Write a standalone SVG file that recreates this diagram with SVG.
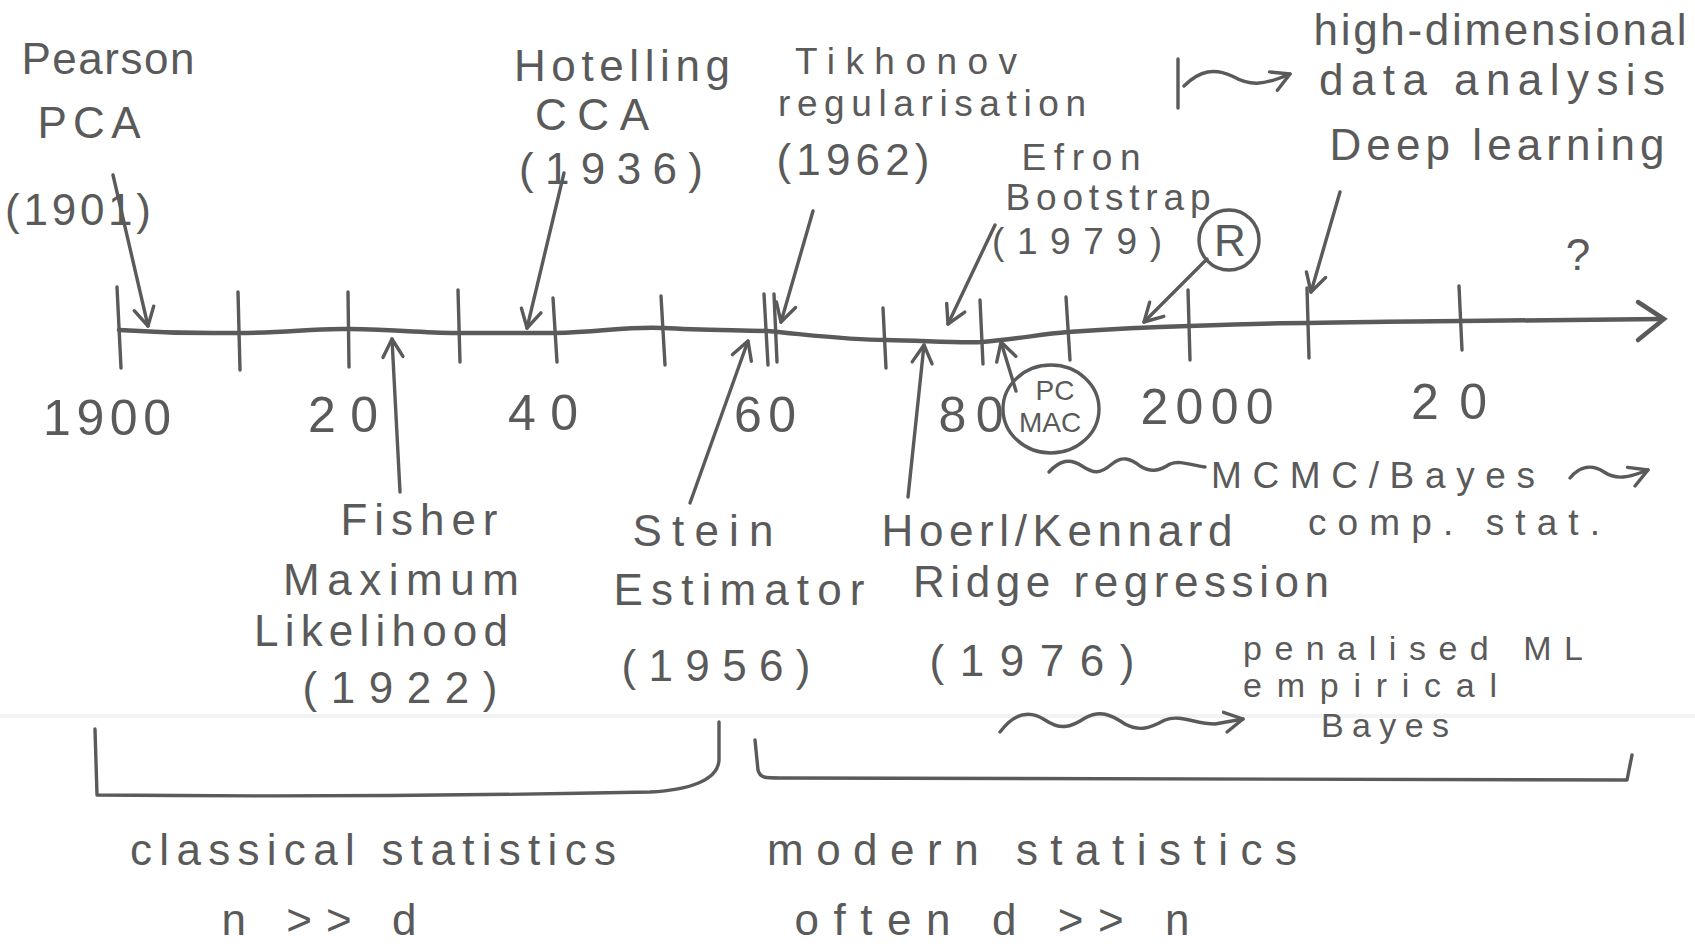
<svg xmlns="http://www.w3.org/2000/svg" width="1695" height="950" viewBox="0 0 1695 950">
<defs>
<marker id="ah" markerUnits="userSpaceOnUse" markerWidth="26" markerHeight="26" viewBox="0 0 26 26" refX="23" refY="13" orient="auto">
<path d="M5,3 L23,13 L5,23" fill="none" stroke="#5a5a5a" stroke-width="3.4" stroke-linecap="round" stroke-linejoin="round"/>
</marker>
<style>
text{font-family:"Liberation Sans","DejaVu Sans",sans-serif;fill:#5a5a5a;text-anchor:middle;font-size:44px}
.ln{fill:none;stroke:#5a5a5a;stroke-width:3.4;stroke-linecap:round;stroke-linejoin:round}
.ax{fill:none;stroke:#5a5a5a;stroke-width:4.5;stroke-linecap:round}
.tk{fill:none;stroke:#5a5a5a;stroke-width:3.4;stroke-linecap:round}
.yr{font-size:50px}
.sm{font-size:28px}
.md{font-size:37px}
.sx{font-size:34px}
</style>
</defs>
<rect width="1695" height="950" fill="#ffffff"/>
<line x1="0" y1="716" x2="1695" y2="716" stroke="#f3f3f3" stroke-width="4"/>

<g id="axis">
<path class="ax" d="M119,330 C180,334 200,333 238,333 C290,333 310,328 349,329 C400,330 430,333 459,333 C500,333 530,333 555,333 C600,332 630,326 663,328 C700,330 740,330 767,331 C820,336 850,340 886,340 C930,341 960,343 982,342 C1020,339 1040,334 1068,332 C1110,329 1150,327 1189,326 C1240,324 1270,323 1308,323 C1380,322 1420,321 1461,321 L1663,319"/>
<path class="ax" d="M1638,302 L1664,319 L1638,340"/>
<path class="tk" d="M117,287 L121,368 M238,292 L240,370 M348,292 L349,367 M458,290 L460,362 M553,298 L557,362 M661,296 L665,365 M764,294 L768,365 M774,294 L777,362 M883,308 L886,368 M980,300 L983,364 M1066,297 L1070,360 M1188,290 L1190,360 M1307,288 L1309,358 M1459,286 L1462,350"/>
</g>

<g id="years">
<text class="yr" x="107" y="435" textLength="128">1900</text>
<text class="yr" x="343" y="432" textLength="70">20</text>
<text class="yr" x="543" y="430" textLength="70">40</text>
<text class="yr" x="765" y="432" textLength="62">60</text>
<text class="yr" x="971" y="432" textLength="65">80</text>
<text class="yr" x="1207" y="424" textLength="133">2000</text>
<text class="yr" x="1449" y="419" textLength="76">20</text>
</g>

<g id="pearson">
<text x="108" y="74" textLength="173">Pearson</text>
<text x="89" y="138" textLength="103">PCA</text>
<text x="78" y="225" textLength="146">(1901)</text>
</g>
<g id="hotelling">
<text x="622" y="81" textLength="216">Hotelling</text>
<text x="592" y="130" textLength="114">CCA</text>
<text x="611" y="184" textLength="184">(1936)</text>
</g>
<g id="tikhonov">
<text class="md" x="906" y="74" textLength="222">Tikhonov</text>
<text class="md" x="932" y="116" textLength="308">regularisation</text>
<text x="853" y="175" textLength="153">(1962)</text>
</g>
<g id="efron">
<text class="md" x="1081" y="170" textLength="119">Efron</text>
<text class="md" x="1108" y="210" textLength="205">Bootstrap</text>
<text class="md" x="1077" y="254" textLength="170">(1979)</text>
</g>
<g id="r">
<circle cx="1229" cy="240" r="30" class="ln"/>
<text x="1230" y="256">R</text>
</g>
<g id="highdim">
<text x="1500" y="45" textLength="373">high-dimensional</text>
<text x="1492" y="95" textLength="346">data analysis</text>
</g>
<g id="deep">
<text x="1497" y="160" textLength="335">Deep learning</text>
</g>
<g id="question">
<text x="1578" y="270">?</text>
</g>

<g id="fisher">
<text x="419" y="535" textLength="157">Fisher</text>
<text x="401" y="595" textLength="236">Maximum</text>
<text x="381" y="646" textLength="254">Likelihood</text>
<text x="400" y="703" textLength="195">(1922)</text>
</g>
<g id="stein">
<text x="703" y="546" textLength="141">Stein</text>
<text x="739" y="605" textLength="251">Estimator</text>
<text x="716" y="681" textLength="189">(1956)</text>
</g>
<g id="hoerl">
<text x="1057" y="546" textLength="351">Hoerl/Kennard</text>
<text x="1121" y="597" textLength="416">Ridge regression</text>
<text x="1032" y="676" textLength="205">(1976)</text>
</g>
<g id="pcmac">
<ellipse cx="1051" cy="409" rx="48" ry="44" class="ln"/>
<text class="sm" x="1055" y="400">PC</text>
<text class="sm" x="1050" y="432">MAC</text>
</g>
<g id="mcmc">
<text class="md" x="1373" y="488" textLength="324">MCMC/Bayes</text>
<text class="md" x="1454" y="535" textLength="292">comp. stat.</text>
</g>
<g id="penalised">
<text class="sx" x="1413" y="660" textLength="340">penalised ML</text>
<text class="sx" x="1370" y="697" textLength="254">empirical</text>
<text class="sx" x="1385" y="737" textLength="128">Bayes</text>
</g>

<g id="classical">
<text x="373" y="865" textLength="486">classical statistics</text>
<text x="319" y="935" textLength="195">n &gt;&gt; d</text>
</g>
<g id="modern">
<text x="1032" y="865" textLength="530">modern statistics</text>
<text x="992" y="935" textLength="395">often d &gt;&gt; n</text>
</g>

<g id="connectors">
<path class="ln" marker-end="url(#ah)" d="M113,175 L148,326"/>
<path class="ln" marker-end="url(#ah)" d="M564,173 L527,328"/>
<path class="ln" marker-end="url(#ah)" d="M813,211 L781,322"/>
<path class="ln" marker-end="url(#ah)" d="M995,225 L948,324"/>
<path class="ln" marker-end="url(#ah)" d="M1207,259 L1144,322"/>
<path class="ln" marker-end="url(#ah)" d="M1340,192 L1311,292"/>
<path class="ln" marker-end="url(#ah)" d="M400,492 L392,339"/>
<path class="ln" marker-end="url(#ah)" d="M690,503 L748,341"/>
<path class="ln" marker-end="url(#ah)" d="M908,497 L924,345"/>
<path class="ln" marker-end="url(#ah)" d="M1016,391 L1001,342"/>
<path class="ln" d="M1178,59 L1178,108"/>
<path class="ln" marker-end="url(#ah)" d="M1184,86 C1200,70 1215,68 1232,76 C1250,86 1262,86 1290,74"/>
<path class="ln" d="M1049,472 C1060,460 1070,458 1082,466 C1094,474 1100,474 1112,464 C1122,456 1130,458 1140,466 C1150,472 1158,472 1170,464 C1180,460 1190,465 1205,467"/>
<path class="ln" marker-end="url(#ah)" d="M1570,478 C1580,466 1592,464 1604,472 C1616,480 1628,478 1648,470"/>
<path class="ln" marker-end="url(#ah)" d="M1000,732 C1015,712 1030,710 1045,720 C1060,730 1070,728 1085,718 C1100,710 1110,714 1125,724 C1140,732 1150,728 1165,720 C1180,714 1195,724 1215,724 L1243,719"/>
<path class="ln" d="M95,729 L97,795 C300,797 500,795 650,792 C690,790 718,780 719,760 L719,722"/>
<path class="ln" d="M755,740 L758,770 C760,778 765,778 780,778 C1100,780 1400,782 1627,780 L1632,755"/>
</g>
</svg>
